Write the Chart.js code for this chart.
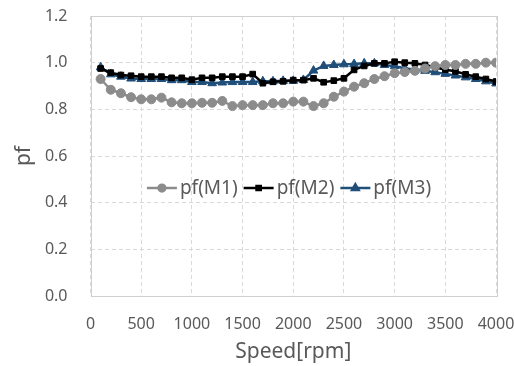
<!DOCTYPE html>
<html>
<head>
<meta charset="utf-8">
<script src="https://cdn.jsdelivr.net/npm/chart.js@4.4.1/dist/chart.umd.min.js"></script>
<style>
  html, body { margin: 0; padding: 0; background: #fff; }
  #wrap { width: 514px; height: 366px; }
</style>
</head>
<body>
<div id="wrap"><canvas id="pfChart" width="514" height="366"></canvas></div>
<script>
const speeds = [100, 200, 300, 400, 500, 600, 700, 800, 900, 1000,
                1100, 1200, 1300, 1400, 1500, 1600, 1700, 1800, 1900, 2000,
                2100, 2200, 2300, 2400, 2500, 2600, 2700, 2800, 2900, 3000,
                3100, 3200, 3300, 3400, 3500, 3600, 3700, 3800, 3900, 4000];

const pfM1 = [0.93, 0.884, 0.869, 0.852, 0.843, 0.843, 0.85, 0.83, 0.826, 0.826,
              0.828, 0.828, 0.836, 0.814, 0.818, 0.818, 0.818, 0.826, 0.826, 0.833,
              0.833, 0.814, 0.826, 0.854, 0.876, 0.897, 0.912, 0.93, 0.942, 0.955,
              0.96, 0.965, 0.975, 0.985, 0.99, 0.99, 0.995, 0.995, 1.0, 1.0];

const pfM2 = [0.975, 0.957, 0.947, 0.944, 0.94, 0.94, 0.94, 0.935, 0.935, 0.927,
              0.935, 0.935, 0.94, 0.94, 0.94, 0.951, 0.912, 0.918, 0.92, 0.925,
              0.925, 0.933, 0.916, 0.923, 0.933, 0.969, 0.986, 0.997, 0.997, 1.004,
              1.0, 0.997, 0.99, 0.98, 0.97, 0.963, 0.95, 0.94, 0.93, 0.919];

const pfM3 = [0.98, 0.95, 0.94, 0.932, 0.93, 0.93, 0.93, 0.925, 0.925, 0.917,
              0.917, 0.912, 0.915, 0.917, 0.917, 0.917, 0.92, 0.92, 0.922, 0.922,
              0.926, 0.966, 0.986, 0.99, 0.993, 0.994, 0.997, 0.997, 0.99, 0.985,
              0.976, 0.97, 0.965, 0.959, 0.952, 0.945, 0.937, 0.93, 0.92, 0.911];

const xTicks = [0, 500, 1000, 1500, 2000, 2500, 3000, 3500, 4000];
const yTicks = [0, 0.2, 0.4, 0.6, 0.8, 1.0, 1.2];

const FONT = "'Noto Sans', 'Open Sans', sans-serif";
const TEXT = '#595959';

function series(label, values, color, style, radius) {
    return {
        label: label,
        data: speeds.map((s, i) => ({ x: s, y: values[i] })),
        borderColor: color,
        backgroundColor: color,
        borderWidth: 2.5,
        pointStyle: style,
        pointRadius: radius,
        pointBorderWidth: 1,
        pointBackgroundColor: color,
        pointBorderColor: color,
        tension: 0
    };
}

// legend drawn inside the plot, mid height
const innerLegend = {
    id: 'innerLegend',
    afterDraw(chart) {
        const ctx = chart.ctx;
        const y = 188;
        const sample = 30;
        const textGap = 3;
        const gap = 6;
        ctx.save();
        ctx.font = '19px ' + FONT;
        ctx.textBaseline = 'middle';
        const items = chart.data.datasets.map(ds => ({ ds: ds, w: ctx.measureText(ds.label).width }));
        let total = 0;
        items.forEach(it => { total += sample + textGap + it.w; });
        total += gap * (items.length - 1);
        let x = 289 - total / 2;
        items.forEach(it => {
            const ds = it.ds;
            ctx.strokeStyle = ds.borderColor;
            ctx.lineWidth = 2.5;
            ctx.beginPath();
            ctx.moveTo(x, y);
            ctx.lineTo(x + sample, y);
            ctx.stroke();
            Chart.helpers.drawPoint(ctx, {
                pointStyle: ds.pointStyle,
                radius: ds.pointRadius * 0.75,
                rotation: 0,
                borderWidth: 1
            }, x + sample / 2, y);
            ctx.fillStyle = ds.borderColor;
            ctx.fill();
            ctx.fillStyle = TEXT;
            ctx.fillText(ds.label, x + sample + textGap, y + 1);
            x += sample + textGap + it.w + gap;
        });
        ctx.restore();
    }
};

// plain box round the plot area
const plotBorder = {
    id: 'plotBorder',
    beforeDatasetsDraw(chart) {
        const a = chart.chartArea;
        const ctx = chart.ctx;
        ctx.save();
        ctx.strokeStyle = '#d0d0d0';
        ctx.lineWidth = 1;
        ctx.strokeRect(Math.round(a.left) + 0.5, Math.round(a.top) + 0.5,
                       Math.round(a.right - a.left), Math.round(a.bottom - a.top));
        ctx.restore();
    }
};

const ctx = document.getElementById('pfChart').getContext('2d');

new Chart(ctx, {
    type: 'line',
    data: {
        datasets: [
            series('pf(M1)', pfM1, '#8c8c8c', 'circle', 4.5),
            series('pf(M2)', pfM2, '#000000', 'rect', 4),
            series('pf(M3)', pfM3, '#1f4e79', 'triangle', 5)
        ]
    },
    options: {
        responsive: false,
        animation: false,
        layout: { padding: { left: 0, right: 18, top: 16, bottom: 0 } },
        plugins: {
            legend: { display: false },
            tooltip: { enabled: false }
        },
        scales: {
            x: {
                type: 'linear',
                min: xTicks[0],
                max: xTicks[xTicks.length - 1],
                afterBuildTicks(scale) { scale.ticks = xTicks.map(v => ({ value: v })); },
                afterFit(scale) {
                    scale.height = 70;
                    scale.paddingLeft = 0;
                    scale.paddingRight = 0;
                },
                border: { display: false, dash: [4, 3] },
                grid: { color: '#d9d9d9', drawTicks: false },
                ticks: {
                    padding: 19,
                    color: TEXT,
                    font: { family: FONT, size: 16 },
                    maxRotation: 0,
                    callback: v => String(v)
                },
                title: {
                    display: true,
                    text: 'Speed[rpm]',
                    color: TEXT,
                    font: { family: FONT, size: 21 },
                    padding: { top: 0, bottom: 1 }
                }
            },
            y: {
                min: yTicks[0],
                max: yTicks[yTicks.length - 1],
                afterBuildTicks(scale) { scale.ticks = yTicks.map(v => ({ value: v })); },
                afterFit(scale) {
                    scale.width = 90.5;
                    scale.paddingTop = 0;
                    scale.paddingBottom = 0;
                },
                border: { display: false, dash: [4, 3] },
                grid: { color: '#d9d9d9', drawTicks: false },
                ticks: {
                    padding: 23,
                    color: TEXT,
                    font: { family: FONT, size: 16 },
                    callback: v => v.toFixed(1)
                },
                title: {
                    display: true,
                    text: 'pf',
                    color: TEXT,
                    font: { family: FONT, size: 21 },
                    padding: { top: 11, bottom: 0 }
                }
            }
        }
    },
    plugins: [plotBorder, innerLegend]
});
</script>
</body>
</html>
